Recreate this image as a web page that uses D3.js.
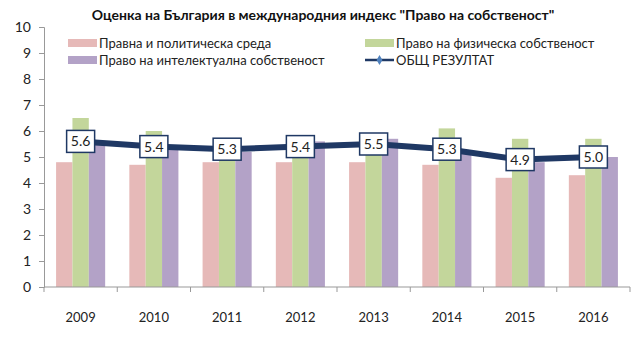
<!DOCTYPE html>
<html><head><meta charset="utf-8">
<script src="https://cdn.jsdelivr.net/npm/d3@7"></script>
<style>body{margin:0;background:#fff}svg{display:block}text{font-family:Lato,"Open Sans",sans-serif}</style>
</head><body>
<svg id="c" width="640" height="360"></svg>
<script>
const years = ["2009","2010","2011","2012","2013","2014","2015","2016"];
const legal = [4.8,4.7,4.8,4.8,4.8,4.7,4.2,4.3];
const physical = [6.5,6.0,5.0,5.2,5.3,6.1,5.7,5.7];
const intellectual = [5.5,5.3,5.2,5.6,5.7,5.2,4.8,5.0];
const total = [5.6,5.4,5.3,5.4,5.5,5.3,4.9,5.0];
const seriesNames = ["Правна и политическа среда","Право на физическа собственост","Право на интелектуална собственост","ОБЩ РЕЗУЛТАТ"];
const colors = ["#e6b9b8","#c3d69b","#b3a2c7","#1f3864"];
const yTicks = [0,1,2,3,4,5,6,7,8,9,10];
const title = 'Оценка на България в международния индекс "Право на собственост"';

const svg = d3.select("#c");
const m = {l:44, r:10, t:27, b:73};
const x = d3.scaleBand().domain(years).range([m.l, 630]).paddingInner(0.33).paddingOuter(0.165);
const xo = d3.scaleBand().domain(years).range([m.l, 630]);
const y = d3.scaleLinear().domain([0,10]).range([287, 27]);
const xs = d3.scaleBand().domain([0,1,2]).range([0, x.bandwidth()]);

svg.append("text").attr("x", 323).attr("y", 20).attr("text-anchor","middle")
  .attr("font-size", 14).attr("font-weight","bold").attr("fill","#111").text(title);

const bars = [legal, physical, intellectual];
bars.forEach((arr, si) => {
  svg.append("g").selectAll("rect").data(arr).join("rect")
    .attr("x", (d,i) => x(years[i]) + xs(si))
    .attr("y", d => y(d))
    .attr("width", xs.bandwidth())
    .attr("height", d => y(0) - y(d))
    .attr("fill", colors[si]);
});

const ya = svg.append("g").attr("transform", `translate(${m.l},0)`)
  .call(d3.axisLeft(y).tickValues(yTicks).tickSize(5).tickPadding(8).tickFormat(d3.format("d")));
ya.select(".domain").attr("stroke","#999");
ya.selectAll(".tick line").attr("stroke","#999");
ya.selectAll("text").attr("font-size",14).attr("fill","#222").attr("font-family","Lato,sans-serif");

const xa = svg.append("g").attr("transform", `translate(0,${y(0)})`);
xa.append("line").attr("x1", m.l).attr("x2", 630).attr("stroke","#999");
const bounds = years.map(v => xo(v)).concat([630]);
xa.selectAll("line.t").data(bounds).join("line").attr("class","t")
  .attr("x1", d=>d).attr("x2", d=>d).attr("y1",0).attr("y2",5).attr("stroke","#999");
xa.selectAll("text").data(years).join("text")
  .attr("x", d => xo(d) + xo.bandwidth()/2).attr("y", 35)
  .attr("text-anchor","middle").attr("font-size",13).attr("fill","#222").text(d=>d);

const cx = i => xo(years[i]) + xo.bandwidth()/2;
svg.append("path").datum(total)
  .attr("d", d3.line().x((d,i)=>cx(i)).y(d=>y(d)))
  .attr("fill","none").attr("stroke",colors[3]).attr("stroke-width",6).attr("stroke-linejoin","round");

const lab = svg.append("g").selectAll("g").data(total).join("g")
  .attr("transform",(d,i)=>`translate(${cx(i)},${y(d)})`);
lab.append("rect").attr("x",-14).attr("y",-11).attr("width",28).attr("height",22)
  .attr("fill","#fff").attr("stroke",colors[3]).attr("stroke-width",1.5);
lab.append("text").attr("text-anchor","middle").attr("dy","0.36em")
  .attr("font-size",14).attr("fill","#222").text(d=>d.toFixed(1));

const leg = [
  {x:68, y:43, i:0, type:"rect"},
  {x:365, y:43, i:1, type:"rect"},
  {x:68, y:60, i:2, type:"rect"},
  {x:365, y:60, i:3, type:"line"}
];
leg.forEach(L => {
  const g = svg.append("g");
  if (L.type === "rect") {
    g.append("rect").attr("x",L.x).attr("y",L.y-4).attr("width",29).attr("height",8).attr("fill",colors[L.i]);
  } else {
    g.append("line").attr("x1",L.x).attr("x2",L.x+29).attr("y1",L.y).attr("y2",L.y).attr("stroke",colors[3]).attr("stroke-width",2.5);
    g.append("path").attr("d",d3.symbol(d3.symbolDiamond,30)()).attr("transform",`translate(${L.x+14.5},${L.y})`).attr("fill","#4f81bd");
  }
  g.append("text").attr("x",L.x+31).attr("y",L.y).attr("dy","0.35em").attr("font-size",13).attr("fill","#222").text(seriesNames[L.i]);
});
</script>
</body></html>
